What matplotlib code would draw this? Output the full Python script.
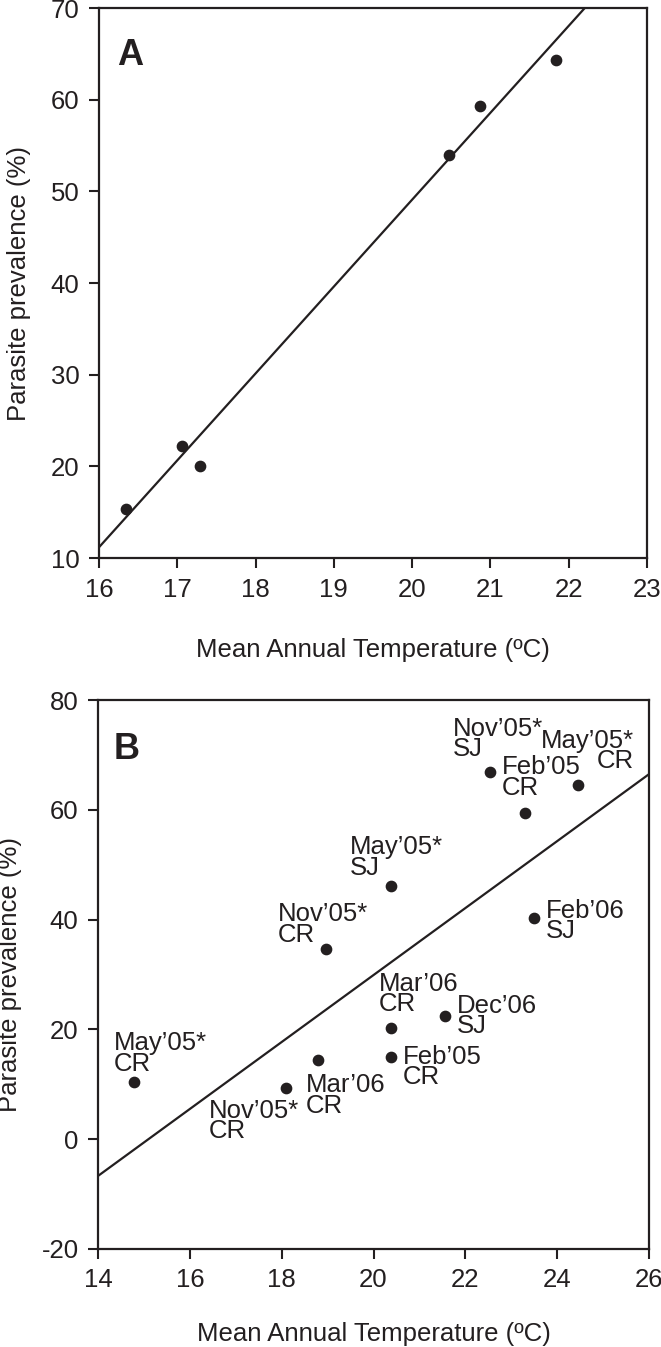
import numpy as np
import matplotlib
matplotlib.use("Agg")
import matplotlib.pyplot as plt

plt.rcParams['font.family'] = ['Liberation Sans', 'DejaVu Sans']
plt.rcParams['font.size'] = 18.5
plt.rcParams['axes.unicode_minus'] = False
ink = '#231f20'

# panel A: prevalence vs mean annual temperature
temp_a = [16.34, 17.06, 17.29, 20.47, 20.87, 21.84]
prev_a = [15.4, 22.2, 20.0, 54.0, 59.3, 64.3]
fit_a = (9.48, -140.5)   # slope, intercept

# panel B: per sampling event
temp_b = [14.78, 18.09, 18.79, 18.96, 20.38, 20.38, 20.38, 21.55, 22.53, 23.30, 24.46, 23.49]
prev_b = [10.5, 9.3, 14.5, 34.7, 46.2, 20.3, 14.9, 22.4, 66.9, 59.5, 64.5, 40.3]
labels_b = ["May’05*\nCR", "Nov’05*\nCR", "Mar’06\nCR", "Nov’05*\nCR", "May’05*\nSJ",
            "Mar’06\nCR", "Feb’05\nCR", "Dec’06\nSJ", "Nov’05*\nSJ", "Feb’05\nCR",
            "May’05*\nCR", "Feb’06\nSJ"]
fit_b = (6.1, -92.1)

# label offsets in pixels (dx, dy of last-line baseline), alignment
offs = [(-20, 11, 'left'), (-77, -50, 'left'), (-12, -53, 'left'), (-48, 7, 'left'),
        (-41, 11, 'left'), (-12, 17, 'left'), (12, -27, 'left'), (12, -17, 'left'),
        (-37, 16, 'left'), (-23, 18, 'left'), (56, 17, 'right'), (12, -20, 'left')]

fig = plt.figure(figsize=(6.61, 13.47), dpi=100)
axA = fig.add_axes([0.1498, 0.5857, 0.8290, 0.4083])
axB = fig.add_axes([0.1483, 0.0728, 0.8336, 0.4075])


def style(ax):
    for s in ax.spines.values():
        s.set_linewidth(1.6)
        s.set_color(ink)
    ax.tick_params(direction='out', length=7, width=1.5, color=ink,
                   labelcolor=ink, pad=7, labelsize=18.5)


# ---- A
xs = np.array([16, 23])
axA.plot(xs, fit_a[0] * xs + fit_a[1], color=ink, lw=1.6)
axA.scatter(temp_a, prev_a, s=55, color=ink, zorder=3)
axA.set_xlim(16, 23)
axA.set_ylim(10, 70)
axA.set_xticks(range(16, 24))
axA.set_yticks(range(10, 71, 10))
style(axA)
axA.set_xlabel('Mean Annual Temperature (ºC)', color=ink, labelpad=26)
axA.set_ylabel('Parasite prevalence (%)', color=ink)
axA.yaxis.set_label_coords(-0.124, 0.5)
axA.text(0.033, 0.896, 'A', transform=axA.transAxes, fontsize=26,
         fontweight='bold', color=ink, va='baseline')

# ---- B
xs = np.array([14, 26])
axB.plot(xs, fit_b[0] * xs + fit_b[1], color=ink, lw=1.6)
axB.scatter(temp_b, prev_b, s=55, color=ink, zorder=3)
for x, y, lab, (dx, dy, ha) in zip(temp_b, prev_b, labels_b, offs):
    axB.annotate(lab, (x, y), xytext=(dx * 0.72, dy * 0.72), textcoords='offset points',
                 ha=ha, va='baseline', multialignment=ha, linespacing=0.8,
                 fontsize=18.5, color=ink)
axB.set_xlim(14, 26)
axB.set_ylim(-20, 80)
axB.set_xticks(range(14, 27, 2))
axB.set_yticks(range(-20, 81, 20))
style(axB)
axB.set_xlabel('Mean Annual Temperature (ºC)', color=ink, labelpad=21)
axB.set_ylabel('Parasite prevalence (%)', color=ink)
axB.yaxis.set_label_coords(-0.138, 0.5)
axB.text(0.029, 0.893, 'B', transform=axB.transAxes, fontsize=26,
         fontweight='bold', color=ink, va='baseline')

fig.savefig('out.png', dpi=100)
